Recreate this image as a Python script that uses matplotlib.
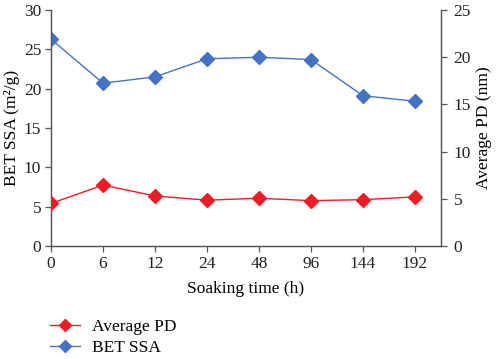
import matplotlib
matplotlib.use("Agg")
import matplotlib.pyplot as plt
from matplotlib.lines import Line2D

categories = ["0", "6", "12", "24", "48", "96", "144", "192"]
bet_ssa = [26.3, 20.7, 21.5, 23.8, 24.0, 23.7, 19.1, 18.4]
avg_pd = [4.5, 6.45, 5.3, 4.85, 5.05, 4.8, 4.9, 5.2]

plt.rcParams['font.family'] = ['Liberation Serif', 'DejaVu Serif']
plt.rcParams['font.size'] = 12.5

red = "#EE1C25"
blue = "#4472C4"
spine = "#555555"

fig = plt.figure(figsize=(5.0, 3.59), dpi=100)
ax = fig.add_axes([0.102, 0.315, 0.78, 0.657])
ax2 = ax.twinx()

x = list(range(len(categories)))
ax.plot(x, bet_ssa, color=blue, marker='D', markersize=7, linewidth=1.0, label='BET SSA', zorder=3)
ax2.plot(x, avg_pd, color=red, marker='D', markersize=7, linewidth=1.0, label='Average PD', zorder=3)

ax.set_xlim(0, 7.5)
ax.set_ylim(0, 30)
ax2.set_ylim(0, 25)
ax.set_yticks(range(0, 31, 5))
ax2.set_yticks(range(0, 26, 5))
ax.set_xticks(x)
ax.set_xticklabels(categories)

ax.set_xlabel("Soaking time (h)", labelpad=7)
ax.set_ylabel("BET SSA (m²/g)", labelpad=3)
ax2.set_ylabel("Average PD (nm)", labelpad=4)

for a in (ax, ax2):
    for s in a.spines.values():
        s.set_color(spine)
        s.set_linewidth(0.9)
    a.tick_params(colors=spine, labelcolor='#222222', width=0.9, length=4, pad=3)
ax2.tick_params(axis='y', pad=5)
ax2.spines['top'].set_visible(False)
ax.spines['top'].set_visible(False)

handles = [Line2D([], [], color=red, marker='D', markersize=6.5, linewidth=1.0),
           Line2D([], [], color=blue, marker='D', markersize=6.5, linewidth=1.0)]
fig.legend(handles, ["Average PD", "BET SSA"], loc='upper left',
           bbox_to_anchor=(0.086, 0.13), frameon=False, handlelength=1.75,
           handletextpad=0.65, labelspacing=0.25, borderaxespad=0, fontsize=12.5)

fig.savefig("out.png", dpi=100)
